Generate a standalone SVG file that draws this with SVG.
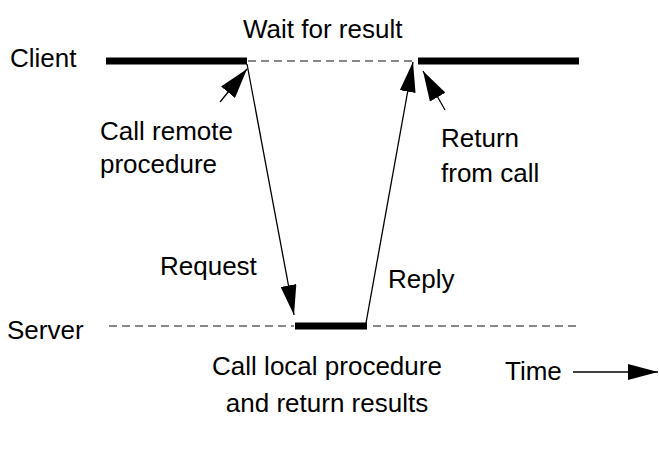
<svg xmlns="http://www.w3.org/2000/svg" width="659" height="459" viewBox="0 0 659 459">
<defs>
<style>
text{font-family:"Liberation Sans",Arial,sans-serif;font-size:26px;fill:#000}
.thick{stroke:#000;stroke-width:7;fill:none}
.dash{stroke:#111;stroke-width:1.2;stroke-dasharray:8,5;fill:none}
.msg{stroke:#000;stroke-width:1.3;fill:none}
</style>
<marker id="ahBig" viewBox="0 0 30 18" refX="30" refY="9" markerWidth="30" markerHeight="18" markerUnits="userSpaceOnUse" orient="auto">
<path d="M0,0 L30,9 L0,18 z" fill="#000"/>
</marker>
<marker id="ahMid" viewBox="0 0 30 16" refX="30" refY="8" markerWidth="30" markerHeight="16" markerUnits="userSpaceOnUse" orient="auto">
<path d="M0,0 L30,8 L0,16 z" fill="#000"/>
</marker>
</defs>
<rect width="659" height="459" fill="#fff"/>
<g id="client">
<text x="10" y="67">Client</text>
<line class="thick" x1="106" y1="61" x2="247" y2="61"/>
<line class="dash" x1="248" y1="61" x2="415" y2="61"/>
<line class="thick" x1="418" y1="61" x2="579" y2="61"/>
<text x="243" y="38">Wait for result</text>
</g>
<g id="server">
<text x="7" y="339">Server</text>
<line class="dash" x1="109" y1="326" x2="294" y2="326"/>
<line class="thick" x1="295" y1="326" x2="367" y2="326"/>
<line class="dash" x1="373" y1="326" x2="579" y2="326"/>
</g>
<g id="labels">
<text x="100" y="140">Call remote</text>
<text x="100" y="173">procedure</text>
<text x="441" y="147">Return</text>
<text x="441" y="182">from call</text>
<text x="160" y="275">Request</text>
<text x="388" y="288">Reply</text>
<text x="327" y="375" text-anchor="middle">Call local procedure</text>
<text x="327" y="412" text-anchor="middle">and return results</text>
<text x="505" y="380">Time</text>
</g>
<g id="connectors">
<line class="msg" x1="247" y1="64" x2="294" y2="315" marker-end="url(#ahMid)"/>
<line class="msg" x1="366" y1="323" x2="413" y2="62" marker-end="url(#ahMid)"/>
<line class="msg" x1="220" y1="102" x2="247" y2="69" marker-end="url(#ahBig)"/>
<line class="msg" x1="445" y1="110" x2="423" y2="71" marker-end="url(#ahBig)"/>
<line class="msg" x1="573" y1="372" x2="658" y2="372" marker-end="url(#ahMid)"/>
</g>
</svg>
